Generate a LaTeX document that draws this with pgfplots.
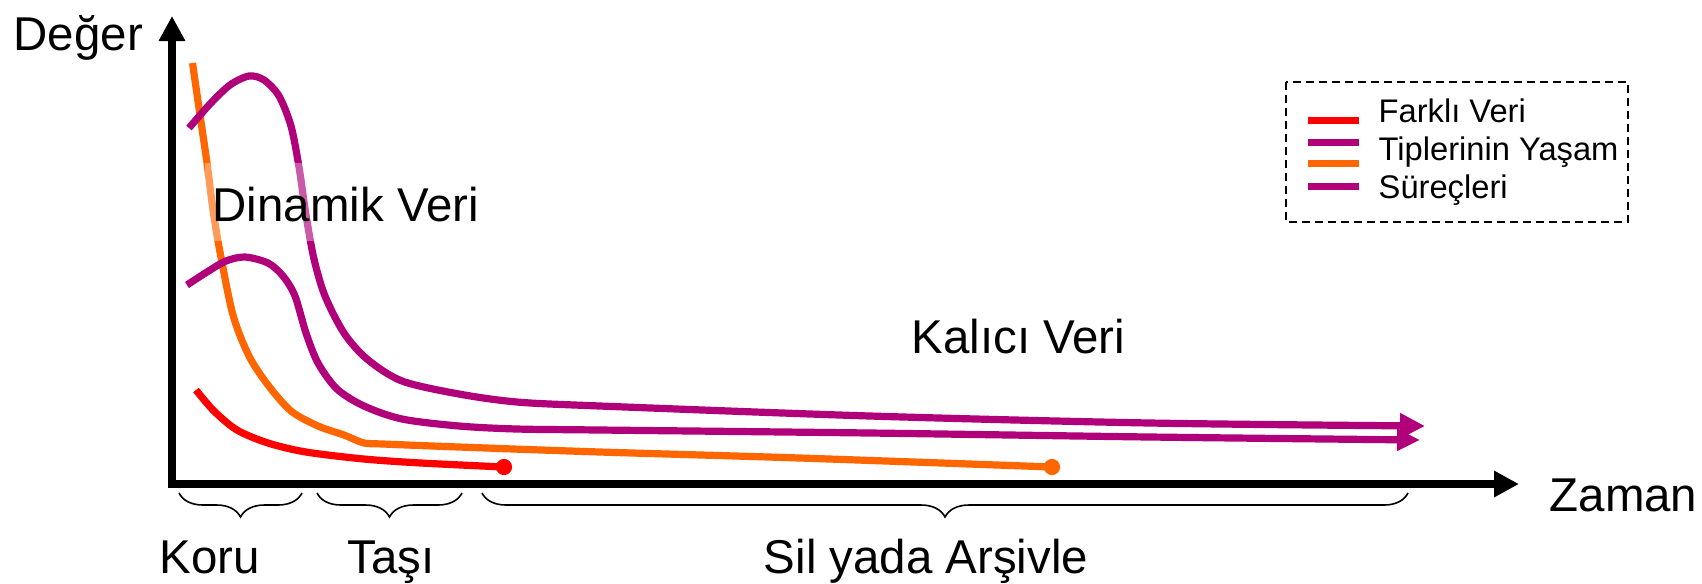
\documentclass[border=0pt]{standalone}
\usepackage{fontspec}
\setmainfont{Liberation Sans}
\usepackage{pgfplots}
\pgfplotsset{compat=1.18}
\usetikzlibrary{arrows.meta,decorations.pathreplacing}
\definecolor{cred}{HTML}{FF0000}
\definecolor{cpur}{HTML}{B0007A}
\definecolor{corg}{HTML}{FF6600}
\newcommand{\bigfont}{\fontsize{13.5}{16}\selectfont}
\newcommand{\legfont}{\fontsize{9.3}{11}\selectfont}
\begin{document}
\begin{tikzpicture}
\begin{axis}[scale only axis, width=17.02cm, height=5.81cm,
  xmin=0, xmax=1702, ymin=0, ymax=581, y dir=reverse,
  hide axis, clip=false]
\path (rel axis cs:0,0) rectangle (rel axis cs:1,1);

% curves
\addplot[corg, line width=0.072cm, smooth] coordinates {
(192.5,63)(200,115)(207,163)(213,210)(220,252)(233,315)(249,356)(268,385)
(291,411)(318,426)(344,435)(364,443)(383,444)(459,447)(600,452)(800,458)(1052,467)};
\addplot[cred, line width=0.072cm, smooth] coordinates {
(196,390)(214,411)(237,430)(268,443)(306,452)(364,459)(421,463)(504,467)};
\addplot[cpur, line width=0.072cm, smooth, -{Triangle[length=0.25cm,width=0.24cm]}] coordinates {
(189,128)(210,104)(230,85)(249,76)(264,80)(279,96)(291,126)(299,167)(306,215)
(314,259)(325,296)(344,333)(367,359)(402,381)(459,394)(517,402)(600,406)
(870,416)(1150,423)(1425,426)};
\addplot[cpur, line width=0.072cm, smooth, -{Triangle[length=0.23cm,width=0.21cm]}] coordinates {
(187,285)(207,272)(226,261)(245,257)(268,263)(283,276)(295,296)(306,333)
(318,363)(337,389)(364,406)(402,419)(459,426)(517,429)(600,430)(870,433)
(1150,437)(1420,440)};
\addplot[only marks, mark=*, cred, mark size=2.1pt] coordinates {(504,467)};
\addplot[only marks, mark=*, corg, mark size=2.1pt] coordinates {(1052,467)};

% semi-transparent box behind label
\fill[white, opacity=0.35] (axis cs:205,163) rectangle (axis cs:485,241);
\node[anchor=base west, inner sep=0, font=\bigfont] at (axis cs:212,221) {Dinamik Veri};
\node[anchor=base west, inner sep=0, font=\bigfont] at (axis cs:911,353) {Kalıcı Veri};

% axes
\draw[black, line width=0.072cm, -{Triangle[length=0.25cm,width=0.25cm]}] (axis cs:172,488) -- (axis cs:172,16);
\draw[black, line width=0.072cm, -{Triangle[length=0.25cm,width=0.25cm]}] (axis cs:169,484) -- (axis cs:1519,484);
\node[anchor=base west, inner sep=0, font=\bigfont] at (axis cs:13,50) {Değer};
\node[anchor=base west, inner sep=0, font=\bigfont] at (axis cs:1549,511) {Zaman};

% braces
\draw[decorate, decoration={brace, mirror, amplitude=0.24cm}, line width=0.016cm] (axis cs:179,493) -- (axis cs:302,493);
\draw[decorate, decoration={brace, mirror, amplitude=0.24cm}, line width=0.016cm] (axis cs:317,493) -- (axis cs:462,493);
\draw[decorate, decoration={brace, mirror, amplitude=0.24cm}, line width=0.016cm] (axis cs:482,493) -- (axis cs:1408,493);
\node[anchor=base, inner sep=0, font=\bigfont] at (axis cs:210,573) {Koru};
\node[anchor=base, inner sep=0, font=\bigfont] at (axis cs:391,573) {Taşı};
\node[anchor=base, inner sep=0, font=\bigfont] at (axis cs:926,573) {Sil yada Arşivle};

% legend
\draw[black, line width=0.025cm, dash pattern=on 0.08cm off 0.05cm] (axis cs:1286,82) rectangle (axis cs:1628,222);
\draw[cred, line width=0.07cm] (axis cs:1308,120) -- (axis cs:1359,120);
\draw[cpur, line width=0.07cm] (axis cs:1308,142) -- (axis cs:1359,142);
\draw[corg, line width=0.07cm] (axis cs:1308,163) -- (axis cs:1359,163);
\draw[cpur, line width=0.07cm] (axis cs:1308,186) -- (axis cs:1359,186);
\node[anchor=base west, inner sep=0, font=\legfont] at (axis cs:1378,122) {Farklı Veri};
\node[anchor=base west, inner sep=0, font=\legfont] at (axis cs:1378,160) {Tiplerinin Yaşam};
\node[anchor=base west, inner sep=0, font=\legfont] at (axis cs:1378,198) {Süreçleri};
\end{axis}
\end{tikzpicture}
\end{document}
